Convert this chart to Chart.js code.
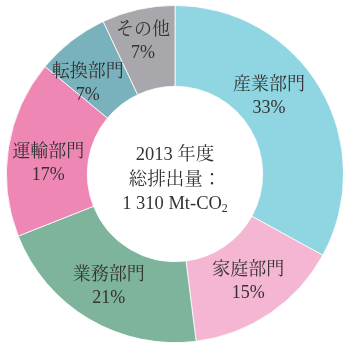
<!DOCTYPE html>
<html><head><meta charset="utf-8">
<script src="https://cdn.jsdelivr.net/npm/chart.js@4"></script>
<style>
html,body{margin:0;padding:0;background:#fff;overflow:hidden;width:343px;height:347px;}
#wrap{position:absolute;left:6px;top:5px;width:338px;height:338px;}
</style></head><body>
<div id="wrap"><canvas id="c"></canvas></div>
<script>
const categories = ['産業部門','家庭部門','業務部門','運輸部門','転換部門','その他'];
const shares = [33, 15, 21, 17, 7, 7];
const pctLabels = ['33%','15%','21%','17%','7%','7%'];
const centerLines = ['2013 年度', '総排出量：', '1 310 Mt-CO'];
const colors = ['#8fd6e2','#f5b6d3','#7db49b','#ef87b5','#79b2bd','#a8a8ac'];

const FONT_SERIF = '"Liberation Serif","Noto Serif CJK JP","Noto Sans CJK JP",serif';
const labelPlugin = {
  id: 'labels',
  afterDatasetsDraw(chart, args, opts) {
    const ctx = chart.ctx;
    const meta = chart.getDatasetMeta(0);
    ctx.save();
    ctx.fillStyle = '#333';
    ctx.textAlign = 'center';
    ctx.textBaseline = 'middle';
    ctx.font = '18px ' + FONT_SERIF;
    meta.data.forEach((arc, i) => {
      const p = arc.getProps(['x','y','startAngle','endAngle','innerRadius','outerRadius'], true);
      let mid = (p.startAngle + p.endAngle) / 2 + (opts.angleShift[i] || 0) * Math.PI / 180;
      const r = (p.innerRadius + p.outerRadius) / 2 + (opts.radShift[i] || 0);
      const x = p.x + Math.cos(mid) * r;
      const y = p.y + Math.sin(mid) * r;
      ctx.fillText(categories[i], x, y - 11);
      ctx.fillText(pctLabels[i], x, y + 12);
    });
    // center text
    const a = meta.data[0];
    const cx = a.x, cy = a.y;
    ctx.font = '18.5px ' + FONT_SERIF;
    ctx.fillText(centerLines[0], cx, cy - 19);
    ctx.fillText(centerLines[1], cx, cy + 6);
    const t = centerLines[2];
    const w = ctx.measureText(t).width;
    ctx.font = '12px ' + FONT_SERIF;
    const w2 = ctx.measureText('2').width;
    const total = w + w2;
    ctx.textAlign = 'left';
    ctx.font = '18.5px ' + FONT_SERIF;
    ctx.fillText(t, cx - total / 2, cy + 30);
    ctx.font = '12px ' + FONT_SERIF;
    ctx.fillText('2', cx - total / 2 + w, cy + 35);
    ctx.restore();
  }
};

new Chart(document.getElementById('c'), {
  type: 'doughnut',
  data: {
    labels: categories,
    datasets: [{
      data: shares,
      backgroundColor: colors,
      borderColor: '#ffffff',
      borderWidth: 0.8
    }]
  },
  options: {
    responsive: true,
    maintainAspectRatio: false,
    animation: false,
    cutout: '52%',
    rotation: 0,
    layout: { padding: 0 },
    plugins: {
      legend: { display: false },
      tooltip: { enabled: false },
      labels: {
        angleShift: [-9, 0, 0, -4, -6, -1],
        radShift: [-6, 2, 2, -1, -2, 8]
      }
    }
  },
  plugins: [labelPlugin]
});
</script>
</body></html>
